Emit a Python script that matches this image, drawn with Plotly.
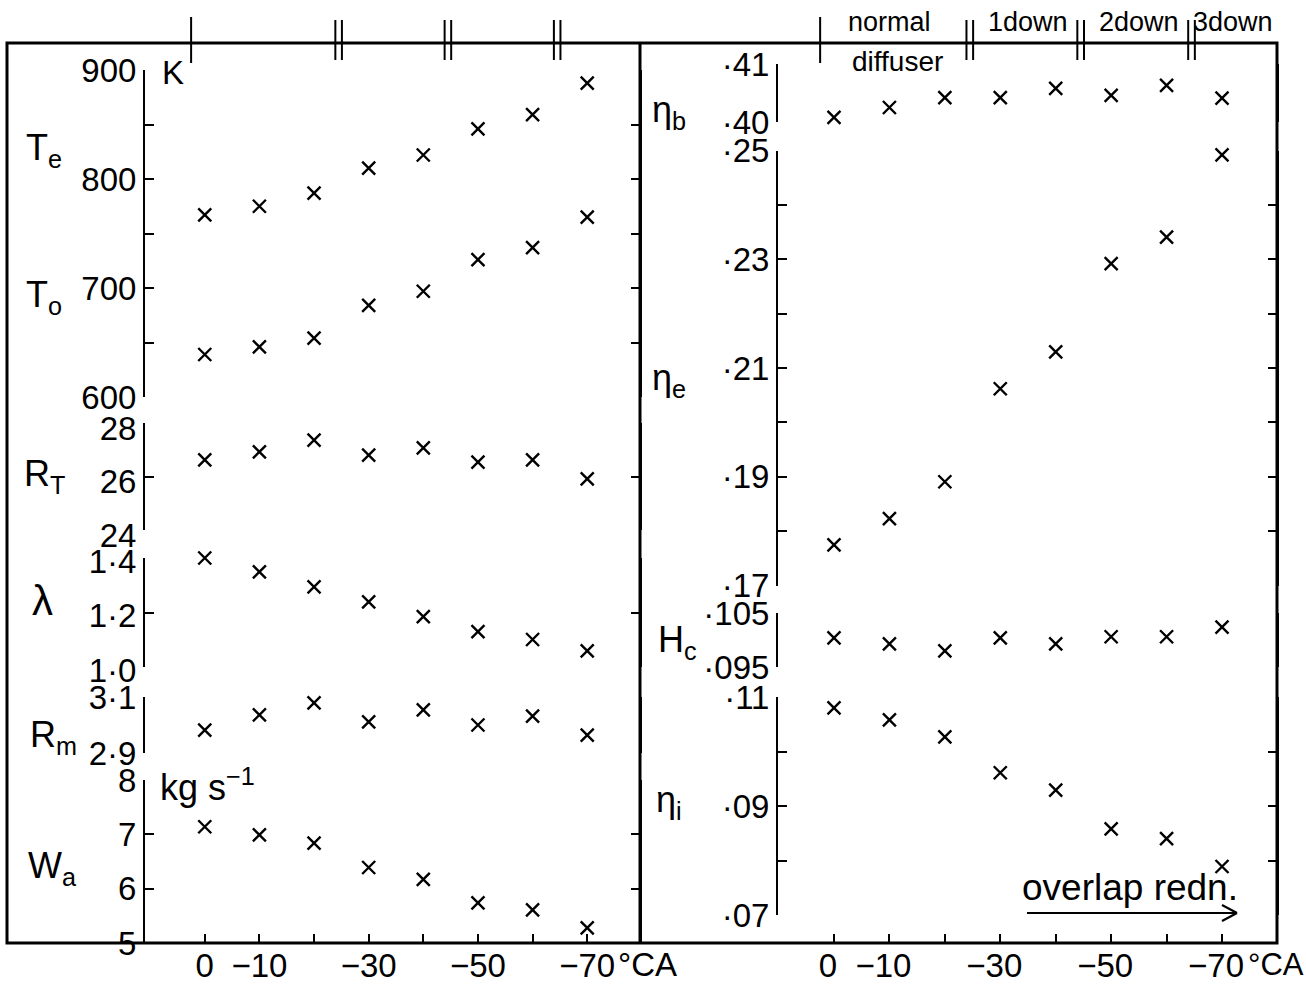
import plotly.graph_objects as go

# crank-angle shift of the scavenge timing (degrees CA)
crank = [0, -10, -20, -30, -40, -50, -60, -70]
x_labels = ["0", "−10", "", "−30", "", "−50", "", "−70"]

# left panel series
T_exhaust = [767, 775, 787, 810, 822, 846, 859, 888]      # K
T_out = [639, 646, 654, 684, 697, 726, 737, 765]          # K
R_T = [26.62, 26.92, 27.36, 26.80, 27.07, 26.54, 26.62, 25.91]
lam = [1.40, 1.349, 1.294, 1.239, 1.185, 1.130, 1.101, 1.059]
R_m = [2.982, 3.036, 3.079, 3.011, 3.054, 3.000, 3.032, 2.964]
W_a = [7.14, 6.99, 6.84, 6.39, 6.17, 5.74, 5.61, 5.28]    # kg/s

# right panel series
eta_b = [0.4008, 0.4025, 0.4042, 0.4042, 0.4058, 0.4046, 0.4063, 0.4041]
eta_e = [0.1775, 0.1823, 0.1891, 0.2062, 0.2130, 0.2292, 0.2341, 0.2492]
H_c = [0.1004, 0.0993, 0.0980, 0.1004, 0.0993, 0.1006, 0.1006, 0.1024]
eta_i = [0.1080, 0.1058, 0.1027, 0.0961, 0.0929, 0.0858, 0.0840, 0.0789]

# diffuser configuration groups along the top edge
group_breaks = [2.5, -24.5, -44.5, -64.5]
group_names = ["normal", "1down", "2down", "3down"]
group_centres = [-10, -35, -55, -72]

W, H = 1306, 986
FONT = "Liberation Sans, Arial, sans-serif"


def px(x):
    return x / W


def py(y):
    return 1 - y / H


fig = go.Figure()

marker = dict(symbol="x-thin", size=13, color="black",
              line=dict(width=2.4, color="black"))

series = [
    (T_exhaust, "x", "y"), (T_out, "x", "y"), (R_T, "x", "y2"),
    (lam, "x", "y3"), (R_m, "x", "y4"), (W_a, "x", "y5"),
    (eta_b, "x2", "y6"), (eta_e, "x2", "y7"), (H_c, "x2", "y8"),
    (eta_i, "x2", "y9"),
]
for vals, xa, ya in series:
    fig.add_trace(go.Scatter(x=crank, y=vals, xaxis=xa, yaxis=ya,
                             mode="markers", marker=marker,
                             cliponaxis=False, showlegend=False,
                             hoverinfo="skip"))

tickfont = dict(family=FONT, size=33, color="black")

yaxis_style = dict(showline=True, linecolor="black", linewidth=2,
                   ticks="inside", ticklen=9, tickwidth=2,
                   tickcolor="black", mirror="ticks", showgrid=False,
                   zeroline=False, tickfont=tickfont, fixedrange=True,
                   automargin=False)

xaxis_style = dict(showline=False, ticks="inside", ticklen=9, tickwidth=2,
                   tickcolor="black", showgrid=False, zeroline=False,
                   tickfont=tickfont, tickvals=crank, ticktext=x_labels,
                   anchor="free", position=py(943), fixedrange=True,
                   automargin=False)


def ticks(lo, hi, step, labelled):
    vals, text = [], []
    n = int(round((hi - lo) / step))
    for k in range(n + 1):
        v = round(lo + k * step, 4)
        vals.append(v)
        text.append(labelled.get(v, ""))
    return vals, text


t_vals, t_text = ticks(600, 900, 50, {600: "600", 700: "700", 800: "800", 900: "900"})
e_vals, e_text = ticks(0.17, 0.25, 0.01, {0.17: "·17", 0.19: "·19", 0.21: "·21",
                                           0.23: "·23", 0.25: "·25"})
i_vals, i_text = ticks(0.07, 0.11, 0.01, {0.07: "·07", 0.09: "·09", 0.11: "·11"})

fig.update_layout(
    width=W, height=H, autosize=False,
    margin=dict(l=0, r=0, t=0, b=0, pad=0, autoexpand=False),
    paper_bgcolor="white", plot_bgcolor="rgba(0,0,0,0)",
    font=dict(family=FONT, color="black"),
    xaxis=dict(xaxis_style, domain=[px(145), px(640)], range=[10.94, -79.66]),
    xaxis2=dict(xaxis_style, domain=[px(778), px(1277)], range=[10.10, -79.92],
                ticklabelshift=6),
    yaxis=dict(yaxis_style, anchor="x", domain=[py(397), py(70)], range=[600, 900],
               tickvals=t_vals, ticktext=t_text),
    yaxis2=dict(yaxis_style, anchor="x", domain=[py(530), py(423)], range=[24, 28],
                tickvals=[24, 26, 28], ticktext=["24", "26", "28"],
                ticklabelshift=5),
    yaxis3=dict(yaxis_style, anchor="x", domain=[py(667), py(558)], range=[1.0, 1.4],
                tickvals=[1.0, 1.2, 1.4], ticktext=["1·0", "1·2", "1·4"],
                ticklabelshift=3),
    yaxis4=dict(yaxis_style, anchor="x", domain=[py(753), py(697)], range=[2.9, 3.1],
                tickvals=[2.9, 3.1], ticktext=["2·9", "3·1"]),
    yaxis5=dict(yaxis_style, anchor="x", domain=[py(943), py(780)], range=[5, 8],
                tickvals=[5, 6, 7, 8], ticktext=["5", "6", "7", "8"]),
    yaxis6=dict(yaxis_style, anchor="x2", domain=[py(122), py(64)], range=[0.40, 0.41],
                tickvals=[0.40, 0.41], ticktext=["·40", "·41"]),
    yaxis7=dict(yaxis_style, anchor="x2", domain=[py(585.6), py(150.6)], range=[0.17, 0.25],
                tickvals=e_vals, ticktext=e_text),
    yaxis8=dict(yaxis_style, anchor="x2", domain=[py(667), py(613)], range=[0.095, 0.105],
                tickvals=[0.095, 0.105], ticktext=["·095", "·105"]),
    yaxis9=dict(yaxis_style, anchor="x2", domain=[py(915), py(697)], range=[0.07, 0.11],
                tickvals=i_vals, ticktext=i_text),
)

shapes = []
# outer frame and panel divider
shapes.append(dict(type="rect", xref="paper", yref="paper",
                   x0=px(7), x1=px(1277), y0=py(943), y1=py(43),
                   line=dict(color="black", width=3)))
shapes.append(dict(type="line", xref="paper", yref="paper",
                   x0=px(640), x1=px(640), y0=py(943), y1=py(43),
                   line=dict(color="black", width=3)))

# group separators crossing the top edge
for xa in ("x", "x2"):
    for k, b in enumerate(group_breaks):
        offs = [0.0] if k == 0 else [-0.6, 0.6]
        top, bot = (17, 63) if k == 0 else (20, 60)
        for o in offs:
            shapes.append(dict(type="line", xref=xa, yref="paper",
                               x0=b + o, x1=b + o, y0=py(bot), y1=py(top),
                               line=dict(color="black", width=2)))

# arrow under "overlap redn."
shapes.append(dict(type="line", xref="paper", yref="paper",
                   x0=px(1027), x1=px(1237), y0=py(913), y1=py(913),
                   line=dict(color="black", width=2)))
shapes.append(dict(type="line", xref="paper", yref="paper",
                   x0=px(1222), x1=px(1237), y0=py(905), y1=py(913),
                   line=dict(color="black", width=2)))
shapes.append(dict(type="line", xref="paper", yref="paper",
                   x0=px(1222), x1=px(1237), y0=py(921), y1=py(913),
                   line=dict(color="black", width=2)))
fig.update_layout(shapes=shapes)

ann = []


def label(text, x, y, size=36, anchor="left"):
    ann.append(dict(text=text, x=px(x), y=py(y), xref="paper", yref="paper",
                    xanchor=anchor, yanchor="middle", showarrow=False,
                    font=dict(family=FONT, size=size, color="black")))


# variable names
label("T<sub>e</sub>", 24, 150)
label("T<sub>o</sub>", 24, 297)
label("R<sub>T</sub>", 22, 476)
label("λ", 30, 600, size=42)
label("R<sub>m</sub>", 28, 737)
label("W<sub>a</sub>", 26, 868)
label("η<sub>b</sub>", 650, 112)
label("η<sub>e</sub>", 650, 380)
label("H<sub>c</sub>", 656, 642)
label("η<sub>i</sub>", 654, 802)

# units
label("K", 160, 73, size=33)
label("kg s<sup>−1</sup>", 158, 785, size=36)
label("°CA", 616, 964, size=33)
label("°CA", 1246, 964, size=31)

label("overlap redn.", 1020, 887, size=37)

# diffuser group names above the right panel
for name, c in zip(group_names, group_centres):
    ann.append(dict(text=name, x=c, y=py(22), xref="x2", yref="paper",
                    xanchor="center", yanchor="middle", showarrow=False,
                    font=dict(family=FONT, size=27, color="black")))
ann.append(dict(text="diffuser", x=-11.5, y=py(61), xref="x2", yref="paper",
                xanchor="center", yanchor="middle", showarrow=False,
                font=dict(family=FONT, size=28, color="black")))

fig.update_layout(annotations=ann)

fig.write_html("out.html")
